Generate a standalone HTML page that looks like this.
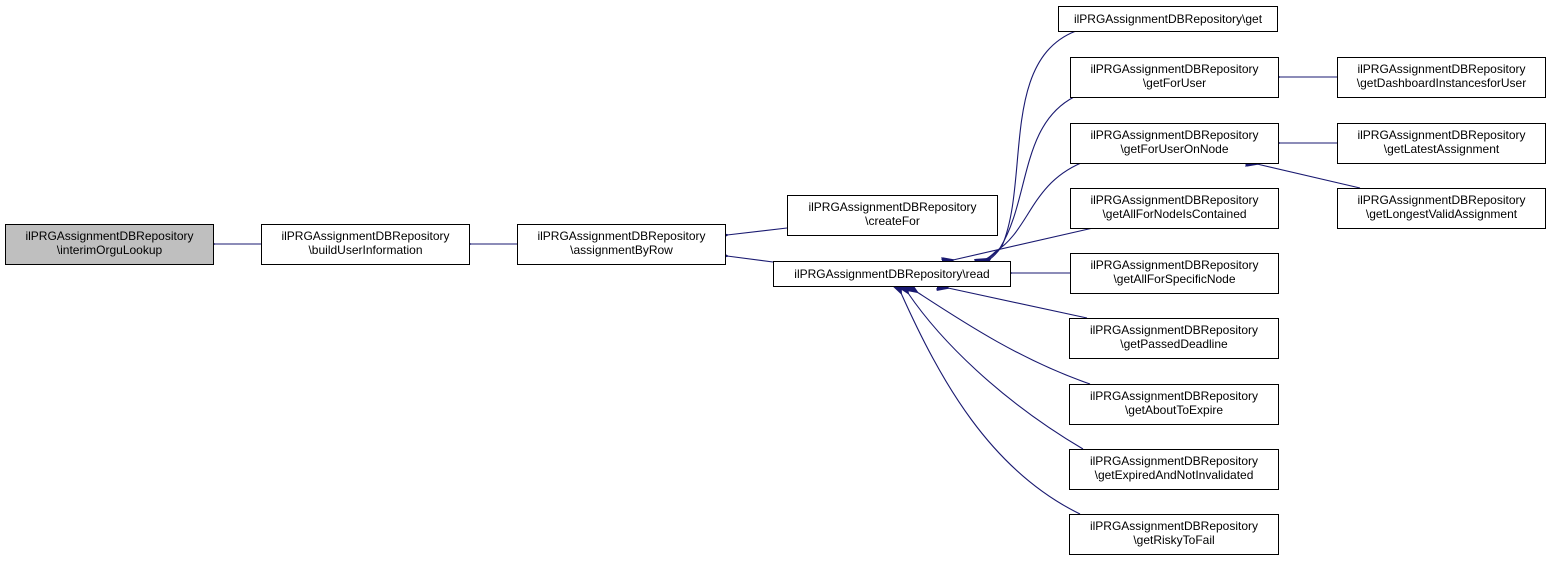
<!DOCTYPE html>
<html><head><meta charset="utf-8"><style>
html,body{margin:0;padding:0;background:#fff;}
svg{display:block;}
text{font-family:"Liberation Sans",Arial,sans-serif;font-size:12px;fill:#000;}
</style></head><body>
<svg width="1551" height="561" viewBox="0 0 1551 561" xmlns="http://www.w3.org/2000/svg">
<defs>
<marker id="a" markerWidth="12" markerHeight="10" refX="1" refY="5" orient="auto-start-reverse" markerUnits="userSpaceOnUse">
<path d="M12,0 L0,5 L12,10 z" fill="#191970" stroke="#191970"/>
</marker>
</defs>
<g fill="none" stroke="#191970" stroke-width="1.1">
<path d="M261,244 L214,244" marker-end="url(#a)"/>
<path d="M517,244 L470,244" marker-end="url(#a)"/>
<path d="M787,228 L727,235" marker-end="url(#a)"/>
<path d="M773,262 L727,256" marker-end="url(#a)"/>
<path d="M1076,31 C1000,60 1030,180 1002,246 C998,252 994,256 990,259" marker-end="url(#a)"/>
<path d="M1074,97 C1020,125 1030,200 1000,248 C996,253 992,256 988,259" marker-end="url(#a)"/>
<path d="M1081,163 C1030,185 1030,230 995,252 C992,255 990,257 986,259" marker-end="url(#a)"/>
<path d="M1093,228 L953,260" marker-end="url(#a)"/>
<path d="M1070,273 L1011,273" marker-end="url(#a)"/>
<path d="M1087,318 L948,288" marker-end="url(#a)"/>
<path d="M1090,384 C1020,360 960,320 917,292" marker-end="url(#a)"/>
<path d="M1083,449 C1000,400 940,340 908,293" marker-end="url(#a)"/>
<path d="M1080,514 C990,470 940,380 901,293" marker-end="url(#a)"/>
<path d="M1337,77 L1279,77" marker-end="url(#a)"/>
<path d="M1337,143 L1279,143" marker-end="url(#a)"/>
<path d="M1360,188 L1257,164" marker-end="url(#a)"/>
</g>
<g stroke="#000" stroke-width="1">
<rect x="5.5" y="224.5" width="208" height="40" fill="#bfbfbf"/>
<rect x="261.5" y="224.5" width="208" height="40" fill="#fff"/>
<rect x="517.5" y="224.5" width="208" height="40" fill="#fff"/>
<rect x="787.5" y="195.5" width="210" height="40" fill="#fff"/>
<rect x="773.5" y="261.5" width="237" height="25" fill="#fff"/>
<rect x="1058.5" y="6.5" width="219" height="25" fill="#fff"/>
<rect x="1070.5" y="57.5" width="208" height="40" fill="#fff"/>
<rect x="1070.5" y="123.5" width="208" height="40" fill="#fff"/>
<rect x="1070.5" y="188.5" width="208" height="40" fill="#fff"/>
<rect x="1070.5" y="253.5" width="208" height="40" fill="#fff"/>
<rect x="1069.5" y="318.5" width="209" height="40" fill="#fff"/>
<rect x="1069.5" y="384.5" width="209" height="40" fill="#fff"/>
<rect x="1069.5" y="449.5" width="209" height="40" fill="#fff"/>
<rect x="1069.5" y="514.5" width="209" height="40" fill="#fff"/>
<rect x="1337.5" y="57.5" width="208" height="40" fill="#fff"/>
<rect x="1337.5" y="123.5" width="208" height="40" fill="#fff"/>
<rect x="1337.5" y="188.5" width="208" height="40" fill="#fff"/>
</g>
<g text-anchor="middle">
<text x="109.5" y="240">ilPRGAssignmentDBRepository</text><text x="109.5" y="254">\interimOrguLookup</text>
<text x="365.5" y="240">ilPRGAssignmentDBRepository</text><text x="365.5" y="254">\buildUserInformation</text>
<text x="621.5" y="240">ilPRGAssignmentDBRepository</text><text x="621.5" y="254">\assignmentByRow</text>
<text x="892.5" y="211">ilPRGAssignmentDBRepository</text><text x="892.5" y="225">\createFor</text>
<text x="892" y="278">ilPRGAssignmentDBRepository\read</text>
<text x="1168" y="23">ilPRGAssignmentDBRepository\get</text>
<text x="1174.5" y="73">ilPRGAssignmentDBRepository</text><text x="1174.5" y="87">\getForUser</text>
<text x="1174.5" y="139">ilPRGAssignmentDBRepository</text><text x="1174.5" y="153">\getForUserOnNode</text>
<text x="1174.5" y="204">ilPRGAssignmentDBRepository</text><text x="1174.5" y="218">\getAllForNodeIsContained</text>
<text x="1174.5" y="269">ilPRGAssignmentDBRepository</text><text x="1174.5" y="283">\getAllForSpecificNode</text>
<text x="1174" y="334">ilPRGAssignmentDBRepository</text><text x="1174" y="348">\getPassedDeadline</text>
<text x="1174" y="400">ilPRGAssignmentDBRepository</text><text x="1174" y="414">\getAboutToExpire</text>
<text x="1174" y="465">ilPRGAssignmentDBRepository</text><text x="1174" y="479">\getExpiredAndNotInvalidated</text>
<text x="1174" y="530">ilPRGAssignmentDBRepository</text><text x="1174" y="544">\getRiskyToFail</text>
<text x="1441.5" y="73">ilPRGAssignmentDBRepository</text><text x="1441.5" y="87">\getDashboardInstancesforUser</text>
<text x="1441.5" y="139">ilPRGAssignmentDBRepository</text><text x="1441.5" y="153">\getLatestAssignment</text>
<text x="1441.5" y="204">ilPRGAssignmentDBRepository</text><text x="1441.5" y="218">\getLongestValidAssignment</text>
</g>
</svg>
</body></html>
